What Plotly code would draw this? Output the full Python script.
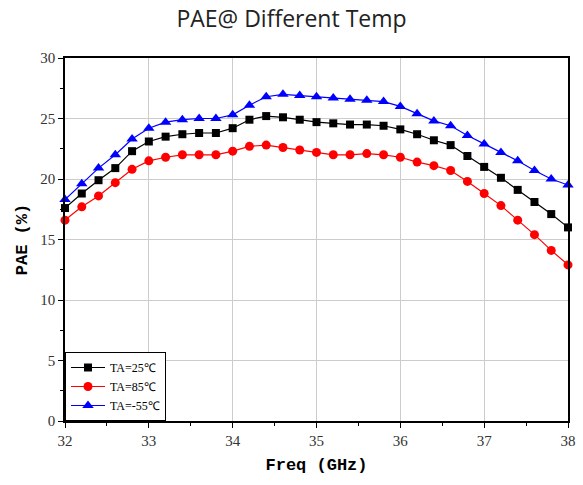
import plotly.graph_objects as go

freq = [32.0, 32.2, 32.4, 32.6, 32.8, 33.0, 33.2, 33.4, 33.6, 33.8, 34.0, 34.2, 34.4, 34.6, 34.8,
        35.0, 35.2, 35.4, 35.6, 35.8, 36.0, 36.2, 36.4, 36.6, 36.8, 37.0, 37.2, 37.4, 37.6, 37.8, 38.0]

pae_25 = [17.6, 18.8, 19.9, 20.9, 22.3, 23.1, 23.5, 23.7, 23.8, 23.8, 24.2, 24.9, 25.2, 25.1, 24.9,
          24.7, 24.6, 24.5, 24.5, 24.4, 24.1, 23.7, 23.2, 22.8, 21.9, 21.0, 20.1, 19.1, 18.1, 17.1, 16.0]
pae_85 = [16.6, 17.7, 18.6, 19.7, 20.8, 21.5, 21.8, 22.0, 22.0, 22.0, 22.3, 22.7, 22.8, 22.6, 22.4,
          22.2, 22.0, 22.0, 22.1, 22.0, 21.8, 21.4, 21.1, 20.7, 19.8, 18.8, 17.8, 16.6, 15.4, 14.1, 12.9]
pae_m55 = [18.3, 19.6, 20.9, 22.0, 23.3, 24.2, 24.7, 24.9, 25.0, 25.0, 25.3, 26.1, 26.8, 27.0, 26.9,
           26.8, 26.7, 26.6, 26.5, 26.4, 26.0, 25.4, 24.8, 24.4, 23.6, 22.9, 22.2, 21.5, 20.7, 20.0, 19.5]

names = ["TA=25℃", "TA=85℃", "TA=-55℃"]
colors = ["#000000", "#FF0000", "#0000FF"]
symbols = ["square", "circle", "triangle-up"]
sizes = [8, 9, 10]

fig = go.Figure()
for y, n, c, s, sz in zip([pae_25, pae_85, pae_m55], names, colors, symbols, sizes):
    fig.add_trace(go.Scatter(
        x=freq, y=y, name=n, mode="lines+markers",
        line=dict(color=c, width=1.2),
        marker=dict(color=c, symbol=s, size=sz),
        cliponaxis=False,
    ))

axis_common = dict(
    showline=True, linecolor="black", linewidth=1.5, mirror=True,
    showgrid=True, gridcolor="#cccccc", gridwidth=1,
    ticks="outside", ticklen=5, tickwidth=1, tickcolor="black",
    tickfont=dict(family="Liberation Serif", size=15, color="#333333"),
    zeroline=False, automargin=False,
)

fig.update_layout(
    width=583, height=485,
    paper_bgcolor="white", plot_bgcolor="white",
    margin=dict(l=65, r=15, t=58, b=64),
    title=dict(text="PAE@ Different Temp", x=0.5, xanchor="center", y=1 - 19 / 485, yanchor="middle",
               yref="container", automargin=False,
               font=dict(family="Open Sans", size=23, color="#222222")),
    xaxis=dict(range=[32, 38], dtick=1, tick0=32,
               minor=dict(dtick=0.5, ticks="outside", ticklen=3, tickcolor="black", showgrid=False),
               title=dict(text="<b>Freq (GHz)</b>", standoff=10,
                          font=dict(family="Liberation Mono", size=17, color="black")),
               **axis_common),
    yaxis=dict(range=[0, 30], dtick=5, tick0=0,
               minor=dict(dtick=2.5, ticks="outside", ticklen=3, tickcolor="black", showgrid=False),
               title=dict(text="<b>PAE (%)</b>", standoff=8,
                          font=dict(family="Liberation Mono", size=17, color="black")),
               **axis_common),
    legend=dict(x=0.0, y=0.0, xanchor="left", yanchor="bottom",
                bgcolor="white", bordercolor="black", borderwidth=1,
                font=dict(family="Liberation Serif", size=12, color="black"),
                tracegroupgap=0, itemwidth=34),
    showlegend=True,
)

fig.write_html("out.html", config={"displayModeBar": False},
               post_script="document.body.style.margin='0';document.body.style.overflow='hidden';")
